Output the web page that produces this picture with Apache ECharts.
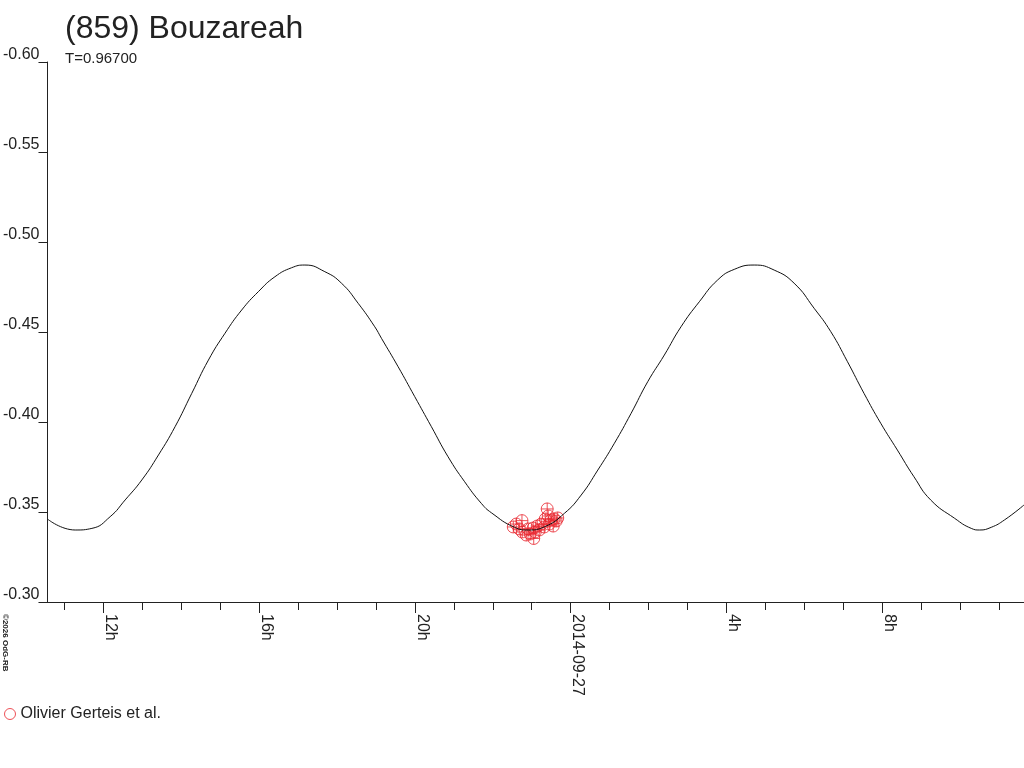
<!DOCTYPE html>
<html>
<head>
<meta charset="utf-8">
<script src="https://cdn.jsdelivr.net/npm/echarts@6/dist/echarts.min.js"></script>
<style>html,body{margin:0;padding:0;background:#fff}#c{width:1024px;height:768px}</style>
</head>
<body>
<div id="c"></div>
<script>
// Hours relative to 2014-09-27 00:00 UT; values are relative magnitudes
const curveHours = [-13.423,-12.723,-12.295,-11.826,-11.441,-11.013,-10.585,-10.159,-9.731,-9.303,-8.877,-8.449,-8.021,-7.595,-7.167,-6.826,-6.313,-5.885,-5.456,-5.031,-4.859,-4.431,-4.005,-3.577,-3.149,-2.723,-2.295,-2.038,-1.441,-1.097,-0.672,-0.159,0.269,0.697,1.123,1.551,1.979,2.405,2.833,3.303,3.774,4.200,4.713,5.226,5.738,6.251,6.679,7.108,7.533,7.962,8.390,8.815,9.244,9.859,10.287,10.500,10.800,11.141,11.641];
const curveMag = [-0.3459,-0.3400,-0.3409,-0.3474,-0.3567,-0.3678,-0.3817,-0.3974,-0.4159,-0.4344,-0.4493,-0.4622,-0.4724,-0.4807,-0.4857,-0.4872,-0.4835,-0.4771,-0.4659,-0.4529,-0.4465,-0.4307,-0.4141,-0.3974,-0.3807,-0.3668,-0.3548,-0.3496,-0.3415,-0.3400,-0.3418,-0.3493,-0.3594,-0.3733,-0.3882,-0.4048,-0.4224,-0.4372,-0.4529,-0.4668,-0.4789,-0.4848,-0.4872,-0.4844,-0.4771,-0.4632,-0.4502,-0.4335,-0.4159,-0.3993,-0.3844,-0.3696,-0.3567,-0.3465,-0.3409,-0.3400,-0.3415,-0.3456,-0.3539];
const obsHours = [-1.474,-1.397,-1.321,-1.251,-1.244,-1.141,-1.090,-1.038,-0.949,-0.962,-0.910,-0.859,-0.808,-0.756,-0.679,-0.654,-0.603,-0.577,-0.551,-0.500,-0.449,-0.423,-0.372,-0.333];
const obsMag = [-0.3417,-0.3433,-0.3406,-0.3452,-0.3389,-0.3372,-0.3406,-0.3378,-0.3353,-0.3411,-0.3389,-0.3422,-0.3400,-0.3433,-0.3417,-0.3461,-0.3517,-0.3478,-0.3433,-0.3456,-0.3422,-0.3461,-0.3450,-0.3467];
const minorTickHours = [-13,-12,-11,-10,-9,-8,-7,-6,-5,-4,-3,-2,-1,0,1,2,3,4,5,6,7,8,9,10,11];
const tickHours = [-12,-8,-4,0,4,8];
const tickLabels = ['12h','16h','20h','2014-09-27','4h','8h'];
const seriesName = 'Olivier Gerteis et al.';
const titleText = '(859) Bouzareah';
const subText = 'T=0.96700';

const FONT = '"Liberation Sans", Arial, sans-serif';
const INK = '#222';
const RED = '#e8262e';
const X_MIN = -13.436, X_MAX = 11.641;
const RING = 'path://M0,-6A6,6,0,1,1,0,6A6,6,0,1,1,0,-6Z';

const chart = echarts.init(document.getElementById('c'));
const xBase = {
  type: 'value', min: X_MIN, max: X_MAX, position: 'bottom',
  splitLine: { show: false }
};
chart.setOption({
  animation: false,
  backgroundColor: '#fff',
  title: [
    { text: titleText, left: 65, top: 13, padding: 0,
      textStyle: { fontSize: 32, fontWeight: 'normal', color: INK, fontFamily: FONT } },
    { text: subText, left: 65, top: 51, padding: 0,
      textStyle: { fontSize: 15, fontWeight: 'normal', color: INK, fontFamily: FONT } }
  ],
  grid: { left: 45, right: 0, top: 62, bottom: 166, containLabel: false },
  legend: {
    left: 4, top: 706, padding: 0, itemWidth: 11, itemHeight: 11, itemGap: 10,
    textStyle: { fontSize: 16, color: INK, fontFamily: FONT },
    data: [{ name: seriesName, icon: RING,
             itemStyle: { color: 'rgba(0,0,0,0)', borderColor: RED, borderWidth: 1 } }]
  },
  xAxis: [
    Object.assign({}, xBase, {
      axisLine: { show: true, onZero: false, lineStyle: { color: INK, width: 1 } },
      axisTick: { show: true, length: 8, inside: false, customValues: minorTickHours,
                  lineStyle: { color: INK, width: 1 } },
      axisLabel: { show: false }
    }),
    Object.assign({}, xBase, {
      axisLine: { show: false, onZero: false },
      axisTick: { show: true, length: 11, inside: false, customValues: tickHours,
                  lineStyle: { color: INK, width: 1 } },
      axisLabel: {
        show: true, customValues: tickHours, rotate: -90, margin: 12,
        verticalAlign: 'bottom', align: 'left', lineHeight: 14,
        fontSize: 16, color: INK, fontFamily: FONT,
        formatter: function (v) {
          const i = tickHours.findIndex(function (t) { return Math.abs(t - v) < 1e-6; });
          return i >= 0 ? tickLabels[i] : '';
        }
      }
    })
  ],
  yAxis: {
    type: 'value', inverse: true, min: -0.60, max: -0.30, interval: 0.05,
    splitLine: { show: false },
    axisLine: { show: true, onZero: false, lineStyle: { color: INK, width: 1 } },
    axisTick: { show: true, length: 9, inside: false, lineStyle: { color: INK, width: 1 } },
    axisLabel: {
      margin: 8, verticalAlign: 'bottom', lineHeight: 15, fontSize: 16, color: INK, fontFamily: FONT,
      formatter: function (v) { return v.toFixed(2); }
    }
  },
  series: [
    {
      type: 'line', name: 'model', xAxisIndex: 0,
      data: curveHours.map(function (h, i) { return [h, curveMag[i]]; }),
      smooth: 0.5, showSymbol: false, symbol: 'none', silent: true,
      lineStyle: { color: '#111', width: 1 }
    },
    {
      type: 'scatter', name: seriesName, xAxisIndex: 0,
      data: obsHours.map(function (h, i) { return [h, obsMag[i]]; }),
      symbol: 'path://M0,-6A6,6,0,1,1,0,6A6,6,0,1,1,0,-6ZM0,-6L0,6M-6,0L6,0',
      symbolSize: 12,
      itemStyle: { color: 'rgba(0,0,0,0)', borderColor: RED, borderWidth: 1 }
    }
  ],
  graphic: [
    { type: 'text', x: 1, y: 614, rotation: -Math.PI / 2,
      style: { text: '\u00a92026 OdG-RB', fontSize: 8, fontWeight: 'bold', fill: INK,
               fontFamily: FONT, align: 'left', verticalAlign: 'bottom' } }
  ]
});
</script>
</body>
</html>
